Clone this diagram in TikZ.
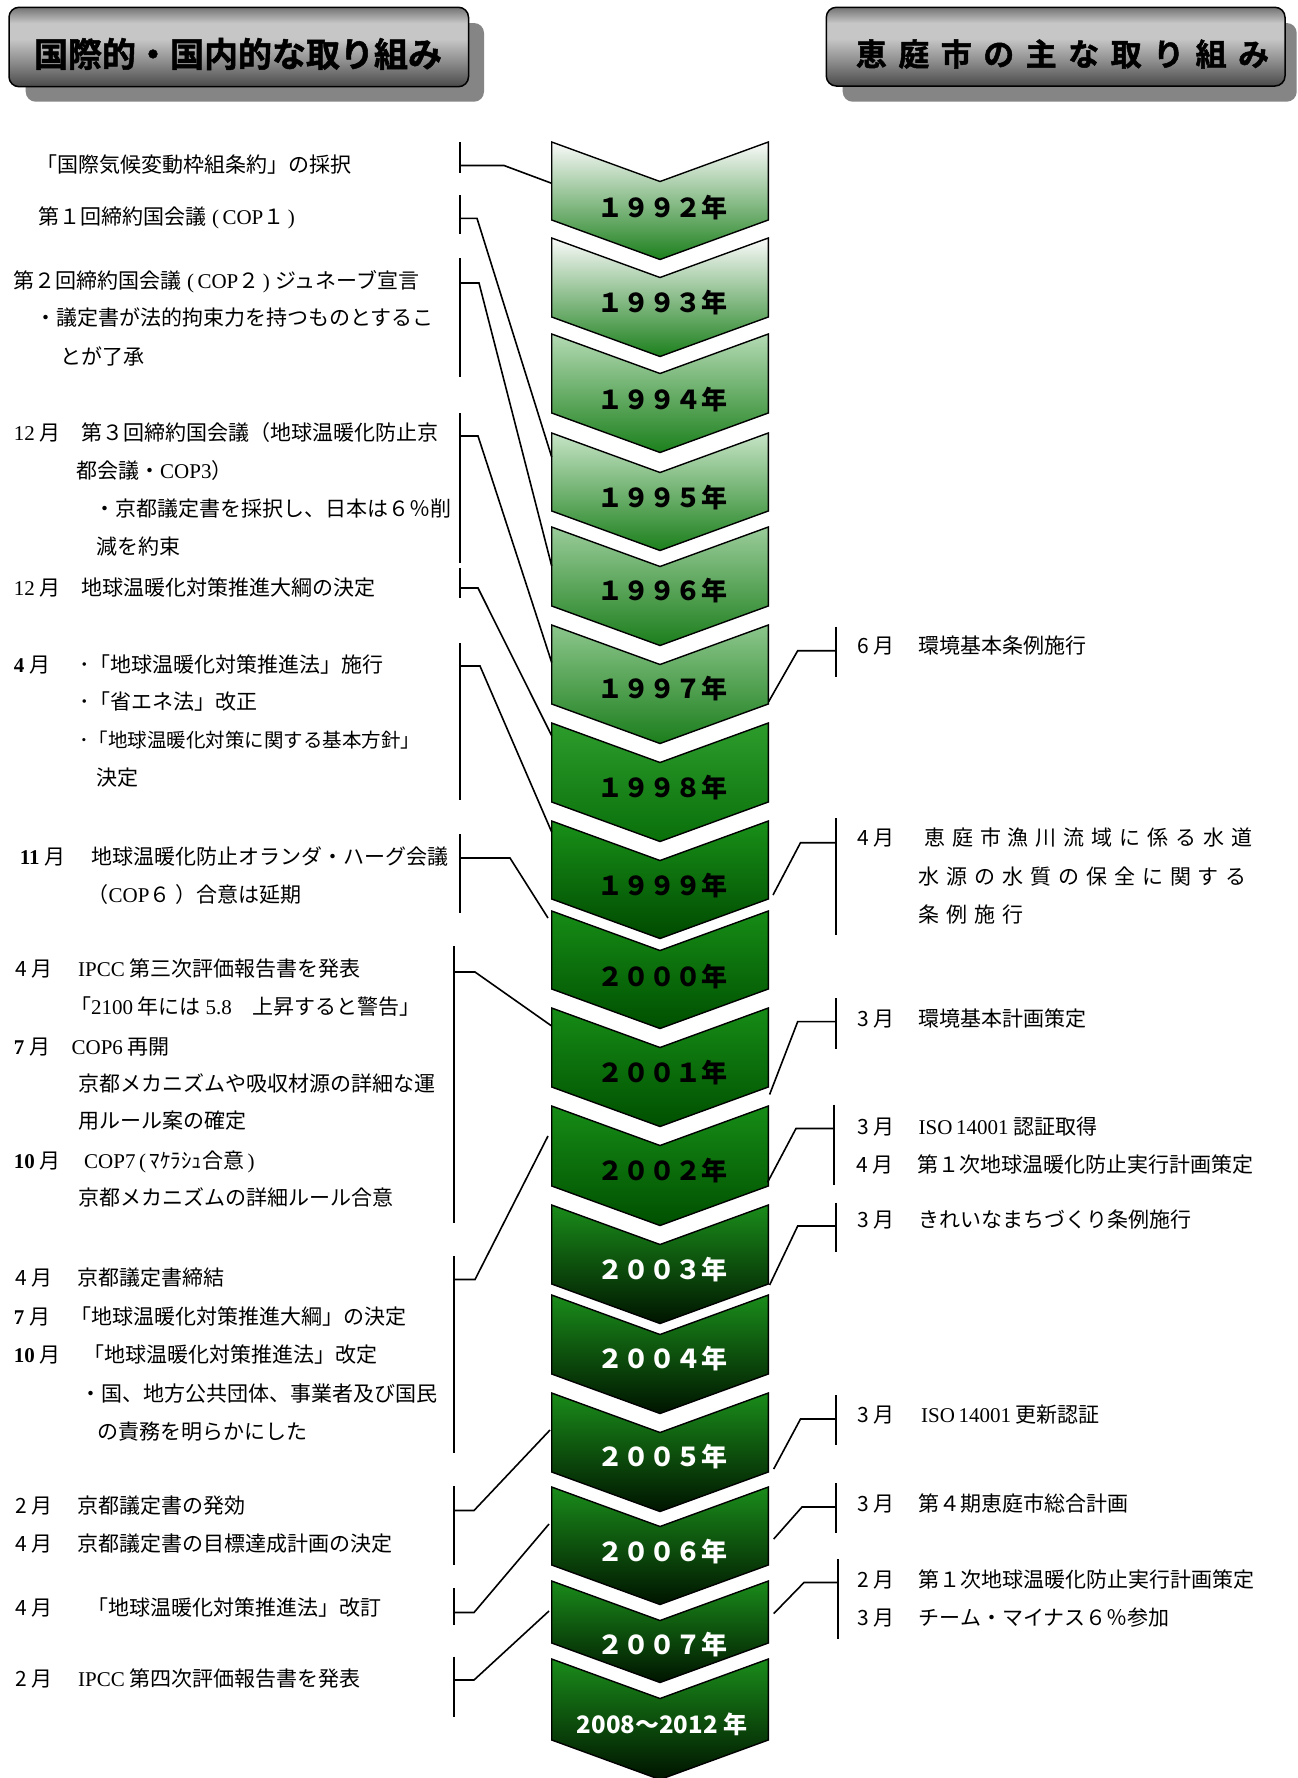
\documentclass[tikz,border=0pt]{standalone}
\usepackage{fontspec}
\setmainfont{Noto Sans CJK JP}
\newfontfamily\srf{Liberation Serif}
\newfontfamily\lsfont[LetterSpace=33]{Noto Sans CJK JP}
\newfontfamily\hdrLfont[FakeBold=1.5]{Noto Sans CJK JP Bold}
\newfontfamily\hdrRfont[LetterSpace=37,FakeBold=1.5]{Noto Sans CJK JP Bold}
\newcommand\sr[1]{{\srf #1}}
\newcommand\srb[1]{{\srf\bfseries #1}}

\definecolor{hA}{HTML}{4A4A4A}
\definecolor{hB}{HTML}{8A8A8A}
\definecolor{hC}{HTML}{C6C6C6}
\definecolor{hD}{HTML}{747474}
\definecolor{shadowgray}{HTML}{858585}
\pgfdeclareverticalshading{hdrshade}{100bp}{color(0bp)=(hA); color(25bp)=(hA); color(40bp)=(hB); color(55bp)=(hC); color(65bp)=(hC); color(75bp)=(hD); color(100bp)=(hD)}

\definecolor{cAt}{HTML}{FAFAFA}\definecolor{cAm}{HTML}{B4CEB4}\definecolor{cAb}{HTML}{1C801C}
\definecolor{cBt}{HTML}{B4DAB4}\definecolor{cBm}{HTML}{7EB87E}\definecolor{cBb}{HTML}{1C801C}
\definecolor{cCt}{HTML}{C6E4C6}\definecolor{cCm}{HTML}{8CC28C}\definecolor{cCb}{HTML}{1C801C}
\definecolor{cDt}{HTML}{9ACC9A}\definecolor{cDm}{HTML}{5CA85C}\definecolor{cDb}{HTML}{1C7E1C}
\definecolor{cEt}{HTML}{8CC68C}\definecolor{cEm}{HTML}{56A456}\definecolor{cEb}{HTML}{1C7E1C}
\definecolor{cFt}{HTML}{2C9C2C}\definecolor{cFm}{HTML}{168A16}\definecolor{cFb}{HTML}{0A700A}
\definecolor{cGt}{HTML}{189018}\definecolor{cGm}{HTML}{007000}\definecolor{cGb}{HTML}{004A00}
\definecolor{cHt}{HTML}{168C16}\definecolor{cHm}{HTML}{007400}\definecolor{cHb}{HTML}{005000}
\definecolor{cIt}{HTML}{1A8C1A}\definecolor{cIm}{HTML}{006600}\definecolor{cIb}{HTML}{001400}

% name, top, bottom, colour set, text colour, label y, text
\newcommand\chev[7]{%
  \shadedraw[top color=#4t, middle color=#4m, bottom color=#4b, draw=black, line width=1.4pt, line join=miter]
    (551.7,#2) -- (660,{#2+39.5}) -- (768.3,#2) -- (768.3,#3) -- (660,{#3+39.5}) -- (551.7,#3) -- cycle;
  \node[yr, text=#5] (#1) at (662,#6) {#7};
}
% bracket: name, x, ytop, ybot, ymid, xknee, target
\newcommand\brk[7]{%
  \coordinate (#1t) at (#2,#3); \coordinate (#1b) at (#2,#4);
  \coordinate (#1m) at (#2,#5); \coordinate (#1k) at (#6,#5);
  \draw[conn] (#1t) -- (#1b);
  \draw[conn] (#1m) -- (#1k) -- (#7);
}

\begin{document}
\begin{tikzpicture}[x=1pt,y=-1pt,
  yr/.style={inner sep=0pt, font=\fontsize{26}{30}\selectfont\bfseries},
  lt/.style={anchor=west, inner sep=0pt, font=\fontsize{21}{25}\selectfont},
  rt/.style={anchor=west, inner sep=0pt, font=\fontsize{21}{25}\selectfont},
  conn/.style={line width=1.6pt, black, line join=miter}]
\fill[white] (0,0) rectangle (1298,1778);
\useasboundingbox (0,0) rectangle (1298,1778);

% ---------- headers ----------
\fill[shadowgray, rounded corners=10pt] (25.7,23) rectangle (484,101.7);
\shade[shading=hdrshade, rounded corners=10pt] (9,7.3) rectangle (468.5,86.7);
\draw[line width=1.5pt, rounded corners=10pt] (9,7.3) rectangle (468.5,86.7);
\node[inner sep=0pt, font=\fontsize{34}{38}\hdrLfont] (h1) at (238,54) {国際的・国内的な取り組み};

\fill[shadowgray, rounded corners=10pt] (842.7,23) rectangle (1296.7,101.7);
\shade[shading=hdrshade, rounded corners=10pt] (826.3,7.3) rectangle (1285,86);
\draw[line width=1.5pt, rounded corners=10pt] (826.3,7.3) rectangle (1285,86);
\node[inner sep=0pt, font=\fontsize{31}{34}\hdrRfont] (h2) at (1062.5,54) {恵庭市の主な取り組み};

% ---------- chevrons ----------
\chev{y92}{142}{220}{cA}{black}{208}{１９９２年}
\chev{y93}{238}{317}{cA}{black}{303}{１９９３年}
\chev{y94}{334}{413}{cB}{black}{400}{１９９４年}
\chev{y95}{433}{511}{cC}{black}{498}{１９９５年}
\chev{y96}{527}{606}{cD}{black}{591}{１９９６年}
\chev{y97}{625}{704}{cE}{black}{689}{１９９７年}
\chev{y98}{723}{802}{cF}{black}{788}{１９９８年}
\chev{y99}{821}{899}{cG}{black}{886}{１９９９年}
\chev{y00}{911}{989}{cH}{black}{977}{２０００年}
\chev{y01}{1008}{1087}{cH}{black}{1073}{２００１年}
\chev{y02}{1106}{1186}{cH}{black}{1171}{２００２年}
\chev{y03}{1205}{1284}{cI}{white}{1270}{２００３年}
\chev{y04}{1295}{1374}{cI}{white}{1359}{２００４年}
\chev{y05}{1393}{1472}{cI}{white}{1457}{２００５年}
\chev{y06}{1487}{1565}{cI}{white}{1552}{２００６年}
\chev{y07}{1581}{1643}{cI}{white}{1645}{２００７年}
\chev{y08}{1659}{1740}{cI}{white}{1724}{\fontsize{24}{28}\selectfont 2008～2012 年}

% connection points on the chevrons
\coordinate (e92L) at (551.7,183.3);
\coordinate (e95L) at (551.7,457);
\coordinate (e96L) at (551.7,566);
\coordinate (e97L) at (551.7,662.5);
\coordinate (e98L) at (551.7,735.7);
\coordinate (e99L) at (551.7,832);
\coordinate (e00L) at (548,918);
\coordinate (e01L) at (551.7,1026);
\coordinate (e02L) at (548,1136);
\coordinate (e05L) at (550,1430);
\coordinate (e06L) at (549,1524);
\coordinate (e07L) at (549,1611);
\coordinate (e97R) at (768.6,701.7);
\coordinate (e99R) at (773,895);
\coordinate (e01R) at (769.6,1094.5);
\coordinate (e02R) at (767.5,1182.4);
\coordinate (e03R) at (769.6,1285);
\coordinate (e05R) at (773.7,1469);
\coordinate (e06R) at (773.7,1539);
\coordinate (e07R) at (773.7,1613.6);

% ---------- left brackets ----------
\brk{b1}{460}{142}{173}{165.5}{504}{e92L}
\brk{b2}{460}{195}{234}{218.3}{477}{e95L}
\brk{b3}{460}{258}{377}{283}{479}{e96L}
\brk{b4}{460}{413}{563}{436}{478}{e97L}
\brk{b5}{460}{568}{598}{588}{478}{e98L}
\brk{b6}{460}{643}{800}{666}{480}{e99L}
\brk{b7}{460}{834}{912.5}{858}{510}{e00L}
\brk{b8}{454}{946}{1223}{972}{475}{e01L}
\brk{b9}{454}{1256}{1453}{1279.5}{475}{e02L}
\brk{b10}{454}{1486}{1565}{1510.5}{474}{e05L}
\brk{b11}{454}{1588}{1625}{1612.5}{474}{e06L}
\brk{b12}{454}{1656.5}{1717}{1680}{474}{e07L}

% ---------- right brackets ----------
\brk{r1}{836}{626.7}{676.7}{650.7}{797.7}{e97R}
\brk{r2}{836}{818.3}{935}{842.7}{800.5}{e99R}
\brk{r3}{836}{998}{1049}{1021.6}{797.7}{e01R}
\brk{r4}{834}{1104.5}{1184.5}{1128.5}{796}{e02R}
\brk{r5}{836}{1202.5}{1252}{1226}{797.7}{e03R}
\brk{r6}{836}{1395}{1444.5}{1419}{800.5}{e05R}
\brk{r7}{836}{1483}{1533}{1507}{802}{e06R}
\brk{r8}{838}{1559}{1638.5}{1582.5}{804}{e07R}

% ---------- left texts ----------
\node[lt] (l1) at (36,165) {「国際気候変動枠組条約」の採択};
\node[lt] (l2) at (38.6,218) {第１回締約国会議\sr{ (\,COP}１\sr{\,)}};
\node[lt] (l3) at (13.6,282) {第２回締約国会議\sr{ (\,COP}２\sr{\,) }ジュネーブ宣言};
\node[lt] (l4) at (35,318) {・議定書が法的拘束力を持つものとするこ};
\node[lt] (l5) at (60.7,356) {とが了承};
\node[lt] (l6) at (13.6,433) {\makebox[68pt][l]{\sr{12} 月}第３回締約国会議（地球温暖化防止京};
\node[lt] (l7) at (76,471) {都会議・\sr{COP3}）};
\node[lt] (l8) at (94,509) {・京都議定書を採択し、日本は６％削};
\node[lt] (l9) at (96,547) {減を約束};
\node[lt] (l10) at (13.6,588) {\makebox[68pt][l]{\sr{12} 月}地球温暖化対策推進大綱の決定};
\node[lt] (l11) at (13.6,665) {\makebox[65.4pt][l]{\srb{4} 月}･「地球温暖化対策推進法」施行};
\node[lt] (l12) at (79,701.5) {･「省エネ法」改正};
\node[lt, font=\fontsize{19.5}{24}\selectfont] (l13) at (79,740) {･「地球温暖化対策に関する基本方針」};
\node[lt] (l14) at (96.4,778) {決定};
\node[lt] (l15) at (19.6,856.5) {\makebox[71.4pt][l]{\srb{11} 月}地球温暖化防止オランダ・ハーグ会議};
\node[lt] (l16) at (87.5,894.7) {（\sr{COP}６ ）合意は延期};
\node[lt] (l17) at (15,969) {\makebox[62.9pt][l]{4 月}\sr{IPCC} 第三次評価報告書を発表};
\node[lt] (l18) at (70,1006.5) {「\sr{2100} 年には \sr{5.8}　上昇すると警告」};
\node[lt] (l19) at (13.6,1047) {\makebox[57.8pt][l]{\srb{7} 月}\sr{COP6} 再開};
\node[lt] (l20) at (77.9,1083) {京都メカニズムや吸収材源の詳細な運};
\node[lt] (l21) at (77.9,1120.5) {用ルール案の確定};
\node[lt] (l22) at (13.6,1162) {\makebox[70.4pt][l]{\srb{10} 月}\sr{COP7\,(\,}ﾏｹﾗｼｭ合意\sr{\,)}};
\node[lt] (l23) at (77.9,1197) {京都メカニズムの詳細ルール合意};
\node[lt] (l24) at (15,1278) {\makebox[62pt][l]{4 月}京都議定書締結};
\node[lt] (l25) at (13.6,1317) {\makebox[56.4pt][l]{\srb{7} 月}「地球温暖化対策推進大綱」の決定};
\node[lt] (l26) at (13.6,1355) {\makebox[70pt][l]{\srb{10} 月}「地球温暖化対策推進法」改定};
\node[lt] (l27) at (80,1393.5) {・国、地方公共団体、事業者及び国民};
\node[lt] (l28) at (97,1431.5) {の責務を明らかにした};
\node[lt] (l29) at (15,1506) {\makebox[62pt][l]{2 月}京都議定書の発効};
\node[lt] (l30) at (15,1543.5) {\makebox[62pt][l]{4 月}京都議定書の目標達成計画の決定};
\node[lt] (l31) at (15,1607) {\makebox[72pt][l]{4 月}「地球温暖化対策推進法」改訂};
\node[lt] (l32) at (15,1679) {\makebox[63pt][l]{2 月}\sr{IPCC} 第四次評価報告書を発表};

% ---------- right texts ----------
\node[rt] (t1) at (857,646) {\makebox[61.5pt][l]{6 月}環境基本条例施行};
\node[rt] (t2a) at (857,838) {\makebox[67pt][l]{4 月}{\lsfont 恵庭市漁川流域に係る水道}};
\node[rt] (t2b) at (918.5,876.7) {\lsfont 水源の水質の保全に関する};
\node[rt] (t2c) at (918.5,915) {\lsfont 条例施行};
\node[rt] (t3) at (857,1018.7) {\makebox[61.5pt][l]{3 月}環境基本計画策定};
\node[rt] (t4a) at (857,1126.5) {\makebox[61.5pt][l]{3 月}\sr{ISO\,14001}\ 認証取得};
\node[rt] (t4b) at (855.8,1165) {\makebox[61.2pt][l]{4 月}第１次地球温暖化防止実行計画策定};
\node[rt] (t5) at (857,1220) {\makebox[61.5pt][l]{3 月}きれいなまちづくり条例施行};
\node[rt] (t6) at (857,1414.6) {\makebox[64pt][l]{3 月}\sr{ISO\,14001}\ 更新認証};
\node[rt] (t7) at (857,1503.7) {\makebox[61.5pt][l]{3 月}第４期恵庭市総合計画};
\node[rt] (t8a) at (857,1579.6) {\makebox[61.5pt][l]{2 月}第１次地球温暖化防止実行計画策定};
\node[rt] (t8b) at (857,1617.7) {\makebox[61.5pt][l]{3 月}チーム・マイナス６％参加};
\end{tikzpicture}
\end{document}
